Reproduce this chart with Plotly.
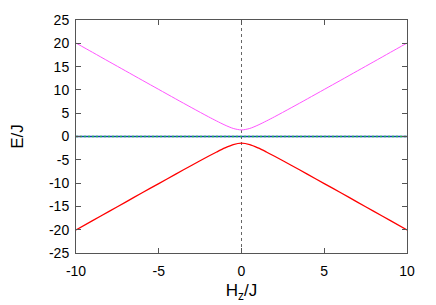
import plotly.graph_objects as go

hz = [-10, -9, -8, -7, -6, -5, -4, -3, -2, -1.5, -1, -0.5, 0, 0.5, 1, 1.5, 2, 3, 4, 5, 6, 7, 8, 9, 10]
e_upper = [20.05, 18.06, 16.06, 14.07, 12.08, 10.10, 8.12, 6.16, 4.24, 3.32, 2.45, 1.73, 1.41,
           1.73, 2.45, 3.32, 4.24, 6.16, 8.12, 10.10, 12.08, 14.07, 16.06, 18.06, 20.05]
e_lower = [-v for v in e_upper]
e_zero = [0.0] * len(hz)
x_ticks = [-10, -5, 0, 5, 10]
x_ticklabels = ["-10", "-5", "0", "5", "10"]
y_ticks = [-25, -20, -15, -10, -5, 0, 5, 10, 15, 20, 25]
y_ticklabels = ["-25", "-20", "-15", "-10", "-5", "0", "5", "10", "15", "20", "25"]

fig = go.Figure()
fig.add_trace(go.Scatter(x=[0, 0], y=[-25, 25], mode="lines",
                         line=dict(color="#666666", width=1, dash="3px,3px")))
fig.add_trace(go.Scatter(x=hz, y=e_upper, mode="lines",
                         line=dict(color="#ff55ff", width=1, shape="spline", smoothing=0.8)))
fig.add_trace(go.Scatter(x=hz, y=e_lower, mode="lines",
                         line=dict(color="#ff0000", width=1.3, shape="spline", smoothing=0.8)))
fig.add_trace(go.Scatter(x=hz, y=e_zero, mode="lines", line=dict(color="#1040b0", width=1.3)))
fig.add_trace(go.Scatter(x=hz, y=e_zero, mode="lines", line=dict(color="#20b050", width=1.3, dash="2px,2px")))

axis_common = dict(showline=True, linecolor="#555555", linewidth=1, mirror="ticks",
                   ticks="inside", ticklen=5, tickcolor="#555555", showgrid=False, zeroline=False,
                   tickmode="array",
                   tickfont=dict(family="Liberation Sans, Arial", size=14, color="black"))
fig.update_layout(
    width=436, height=305, showlegend=False,
    plot_bgcolor="white", paper_bgcolor="white",
    margin=dict(l=68, r=37, t=12, b=60, autoexpand=False),
    font=dict(family="Liberation Sans, Arial", size=14, color="black"),
    xaxis=dict(range=[-10, 10], tickvals=x_ticks, ticktext=x_ticklabels, ticklabelstandoff=5,
               title=dict(text="H<sub>z</sub>/J", standoff=6), **axis_common),
    yaxis=dict(range=[-25, 25], tickvals=y_ticks, ticktext=y_ticklabels, ticklabelstandoff=3,
               title=dict(text="E/J", standoff=22), **axis_common),
)
fig.write_html("out.html")
